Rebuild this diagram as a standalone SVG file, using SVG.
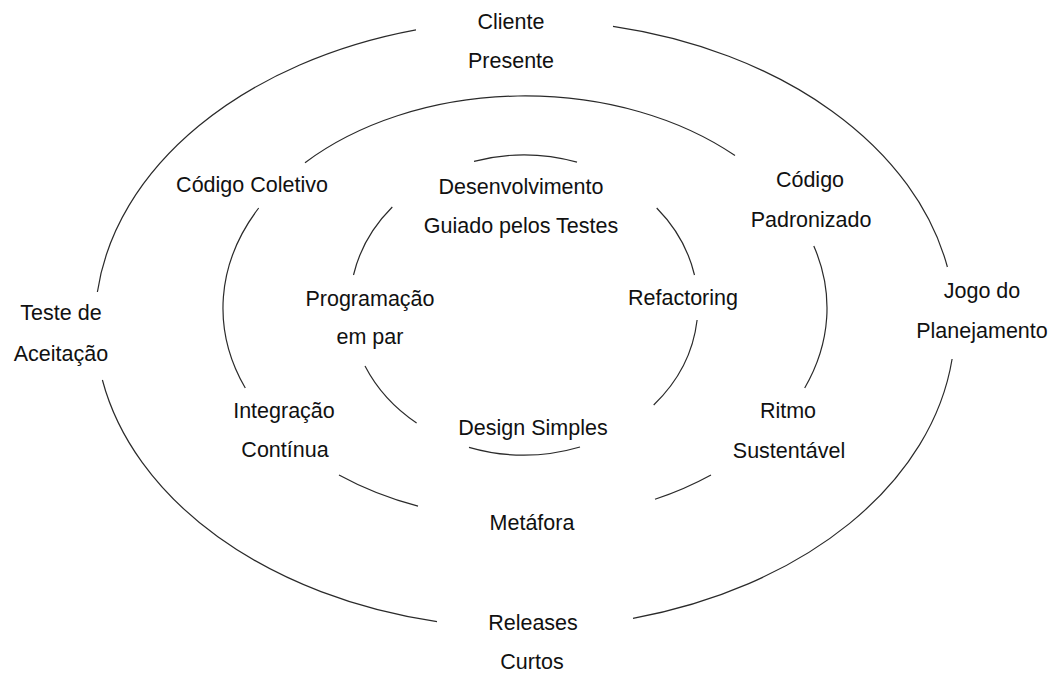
<svg xmlns="http://www.w3.org/2000/svg" width="1056" height="675" viewBox="0 0 1056 675">
<style>
  .arc { fill: none; stroke: #2a2a2a; stroke-width: 1.2; }
  .lbl { font-family: "Liberation Sans", Arial, sans-serif; font-size: 21.5px; fill: #111; text-anchor: middle; }
</style>
<rect x="0" y="0" width="1056" height="675" fill="#ffffff"/>
<g id="connectors">
  <!-- outer ellipse: cx 525, cy 324, rx 430, ry 304 -->
  <path class="arc" d="M416,29.9 A430,304 0 0 0 97.4,292"/>
  <path class="arc" d="M613,26.4 A430,304 0 0 1 947.4,267"/>
  <path class="arc" d="M952.1,359 A430,304 0 0 1 633,618.3"/>
  <path class="arc" d="M102.4,380 A430,304 0 0 0 437,621.6"/>
  <!-- middle ellipse: cx 525, cy 308, rx 302, ry 212 -->
  <path class="arc" d="M305,162.7 A302,212 0 0 1 735,155.6"/>
  <path class="arc" d="M258.7,208 A302,212 0 0 0 245.3,388"/>
  <path class="arc" d="M813.8,246 A302,212 0 0 1 804.7,388"/>
  <path class="arc" d="M339,475 A302,212 0 0 0 418,506.2"/>
  <path class="arc" d="M711,475 A302,212 0 0 1 655,499.3"/>
  <!-- inner ellipse: cx 524, cy 305, rx 174, ry 150 -->
  <path class="arc" d="M474,161.3 A174,150 0 0 1 577,162.1"/>
  <path class="arc" d="M392.3,207 A174,150 0 0 0 353.5,275"/>
  <path class="arc" d="M656.7,208 A174,150 0 0 1 694.5,275"/>
  <path class="arc" d="M697.1,320 A174,150 0 0 1 653.7,405"/>
  <path class="arc" d="M365,366 A174,150 0 0 0 416.6,423"/>
  <path class="arc" d="M469,447.3 A174,150 0 0 0 580,447"/>
</g>
<g id="cliente-presente"><text class="lbl" x="511" y="29">Cliente</text><text class="lbl" x="511" y="68">Presente</text></g>
<g id="teste-aceitacao"><text class="lbl" x="61" y="320">Teste de</text><text class="lbl" x="61" y="361">Aceitação</text></g>
<g id="jogo-planejamento"><text class="lbl" x="982" y="298">Jogo do</text><text class="lbl" x="982" y="338">Planejamento</text></g>
<g id="releases-curtos"><text class="lbl" x="533" y="630">Releases</text><text class="lbl" x="532" y="669">Curtos</text></g>
<g id="codigo-coletivo"><text class="lbl" x="252" y="192">Código Coletivo</text></g>
<g id="codigo-padronizado"><text class="lbl" x="810" y="187">Código</text><text class="lbl" x="811" y="227">Padronizado</text></g>
<g id="integracao-continua"><text class="lbl" x="284" y="418">Integração</text><text class="lbl" x="285" y="457">Contínua</text></g>
<g id="ritmo-sustentavel"><text class="lbl" x="788" y="418">Ritmo</text><text class="lbl" x="789" y="458">Sustentável</text></g>
<g id="metafora"><text class="lbl" x="532" y="530">Metáfora</text></g>
<g id="desenvolvimento"><text class="lbl" x="521" y="194">Desenvolvimento</text><text class="lbl" x="521" y="233">Guiado pelos Testes</text></g>
<g id="programacao-par"><text class="lbl" x="370" y="306">Programação</text><text class="lbl" x="370" y="344">em par</text></g>
<g id="refactoring"><text class="lbl" x="683" y="305">Refactoring</text></g>
<g id="design-simples"><text class="lbl" x="533" y="435">Design Simples</text></g>
</svg>
